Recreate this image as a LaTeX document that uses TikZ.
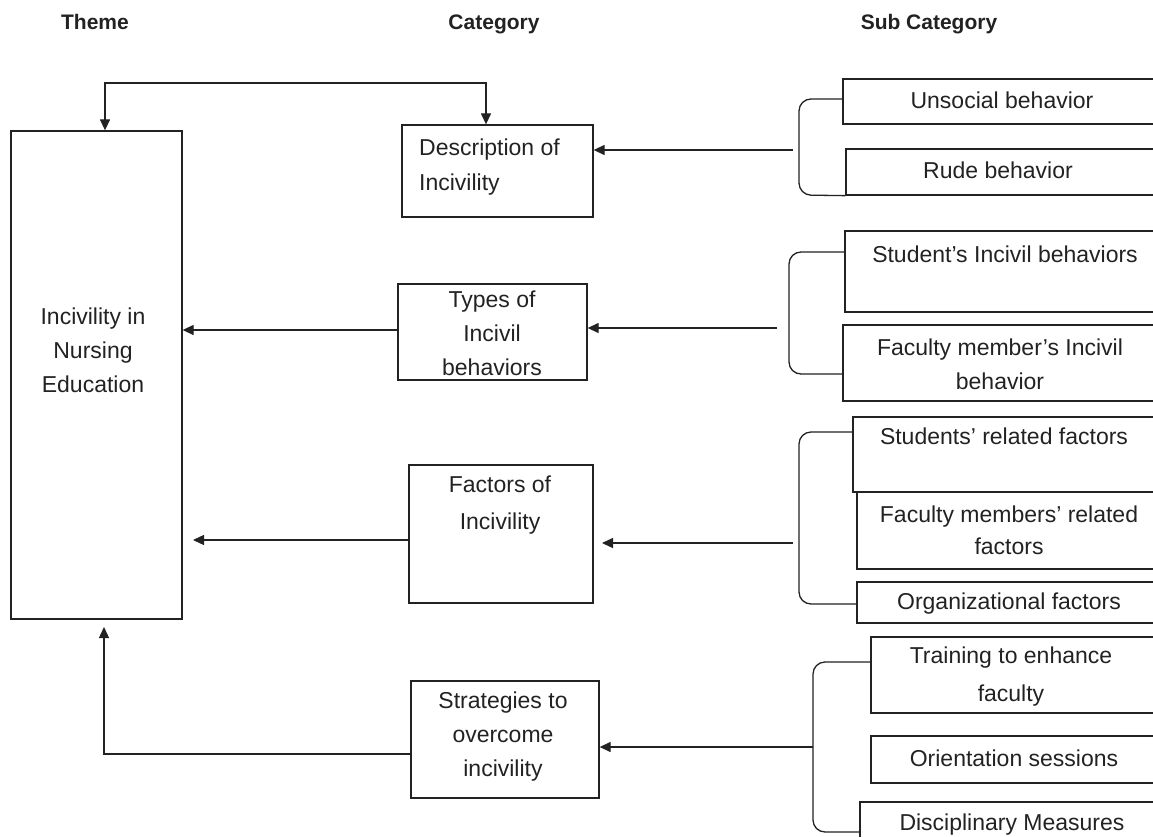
\documentclass[tikz,border=0pt]{standalone}
\usepackage{fontspec}
\setmainfont{Liberation Sans}
\usetikzlibrary{arrows.meta}
\definecolor{ink}{RGB}{34,34,34}
\begin{document}
\begin{tikzpicture}[x=1pt,y=-1pt,
  >={Triangle[length=11pt,width=10pt]},
  box/.style={draw=ink, line width=1.3pt, inner sep=0pt},
  lbl/.style={inner sep=0pt, text=ink, font=\fontsize{23}{34}\selectfont, align=center, anchor=north},
  hdr/.style={inner sep=0pt, text=ink, font=\fontsize{21}{25}\selectfont\bfseries, anchor=base},
  arr/.style={draw=ink, line width=1.3pt, ->},
  arrb/.style={draw=ink, line width=1.3pt, <->},
  brk/.style={draw=ink, line width=1.3pt, rounded corners=12pt},
]
\useasboundingbox (0,0) rectangle (1153,837);
\clip (0,0) rectangle (1153,837);

% headers
\node[hdr] (h1) at (95,30) {Theme};
\node[hdr] (h2) at (494,30) {Category};
\node[hdr] (h3) at (929,30) {Sub Category};

% theme and category boxes
\node[box, minimum width=171pt, minimum height=488pt] (theme) at (96.5,375) {};
\node[box, minimum width=191pt, minimum height=92pt] (desc) at (497.5,171) {};
\node[box, minimum width=189pt, minimum height=96pt] (types) at (492.5,332) {};
\node[box, minimum width=184pt, minimum height=138pt] (factors) at (501,534) {};
\node[box, minimum width=188pt, minimum height=117pt] (strat) at (505,739.5) {};

% sub category boxes
\node[box, minimum width=322pt, minimum height=45pt] (unsoc) at (1004,101.5) {};
\node[box, minimum width=319pt, minimum height=46pt] (rude) at (1005.5,172) {};
\node[box, minimum width=320pt, minimum height=81pt] (stud) at (1005,271.5) {};
\node[box, minimum width=322pt, minimum height=76pt] (facm) at (1004,363) {};
\node[box, minimum width=312pt, minimum height=75pt] (studrel) at (1009,454.5) {};
\node[box, minimum width=308pt, minimum height=77pt] (facrel) at (1011,530.5) {};
\node[box, minimum width=308pt, minimum height=41pt] (org) at (1011,602.5) {};
\node[box, minimum width=294pt, minimum height=76pt] (train) at (1018,675) {};
\node[box, minimum width=294pt, minimum height=47pt] (orient) at (1018,759.5) {};
\node[box, minimum width=305pt, minimum height=58pt] (disc) at (1012.5,831) {};

% texts
\node[lbl, font=\fontsize{23}{34}\selectfont] (ttheme) at (93,308) {Incivility in\\Nursing\\Education};
\node[lbl, anchor=north west, align=left, font=\fontsize{23}{35}\selectfont] (tdesc) at (419,139) {Description of\\Incivility};
\node[lbl] (ttypes) at (492,291) {Types of\\Incivil\\behaviors};
\node[lbl, font=\fontsize{23}{37}\selectfont] (tfactors) at (500,476) {Factors of\\Incivility};
\node[lbl, font=\fontsize{23}{34}\selectfont] (tstrat) at (503,692) {Strategies to\\overcome\\incivility};
\node[lbl] (tunsoc) at (1002,92) {Unsocial behavior};
\node[lbl] (trude) at (998,162) {Rude behavior};
\node[lbl] (tstud) at (1005,246) {Student’s Incivil behaviors};
\node[lbl, font=\fontsize{23}{34}\selectfont] (tfacm) at (1000,339) {Faculty member’s Incivil\\behavior};
\node[lbl] (tstudrel) at (1004,428) {Students’ related factors};
\node[lbl, font=\fontsize{23}{32}\selectfont] (tfacrel) at (1009,506) {Faculty members’ related\\factors};
\node[lbl] (torg) at (1009,593) {Organizational factors};
\node[lbl, font=\fontsize{23}{38}\selectfont] (ttrain) at (1011,647) {Training to enhance\\faculty};
\node[lbl] (torient) at (1014,750) {Orientation sessions};
\node[lbl] (tdisc) at (1012,814) {Disciplinary Measures};

% top connector
\coordinate (tl) at (105,83);
\coordinate (tr) at (486,83);
\draw[arrb] (theme.north -| tl) -- (tl) -- (tr) -- (desc.north -| tr);

% row 1
\coordinate (s1) at (793,150);
\draw[arr] (s1) -- (s1 -| desc.east);

% row 2
\coordinate (y2) at (0,330);
\draw[arr] (types.west |- y2) -- (theme.east |- y2);
\coordinate (s2) at (777,328);
\draw[arr] (s2) -- (s2 -| types.east);

% row 3
\coordinate (f3) at (193,540);
\draw[arr] (factors.west |- f3) -- (f3);
\coordinate (s3) at (793,543);
\coordinate (e3) at (602,543);
\draw[arr] (s3) -- (e3);

% row 4
\coordinate (c4) at (104,754);
\coordinate (u4) at (104,627);
\draw[arr] (strat.west |- c4) -- (c4) -- (u4);
\coordinate (s4) at (813,747);
\draw[arr] (s4) -- (s4 -| strat.east);

% brackets
\coordinate (b1t) at (799,99);
\coordinate (b1b) at (799,195);
\draw[brk] (unsoc.west |- b1t) -- (b1t) -- (b1b) -- (rude.south west);
\coordinate (b2t) at (789,252);
\coordinate (b2b) at (789,374);
\draw[brk] (stud.west |- b2t) -- (b2t) -- (b2b) -- (facm.west |- b2b);
\coordinate (b3t) at (799,432);
\coordinate (b3b) at (799,604);
\draw[brk] (studrel.west |- b3t) -- (b3t) -- (b3b) -- (org.west |- b3b);
\coordinate (b4t) at (813,662);
\coordinate (b4b) at (813,832);
\draw[brk] (train.west |- b4t) -- (b4t) -- (b4b) -- (disc.west |- b4b);
\end{tikzpicture}
\end{document}
